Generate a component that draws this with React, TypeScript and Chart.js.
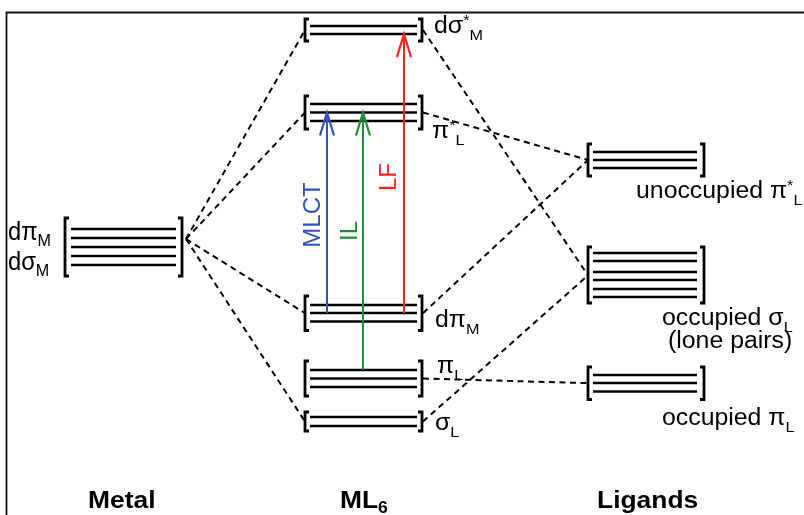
import React, { useEffect, useRef } from 'react';
import { Chart, registerables } from 'chart.js';

Chart.register(...registerables);

const W = 804;
const H = 515;

// ---- data: orbital energy levels (y in chart units, 0 = top) ----
const metalLevels = [229, 238, 247, 256, 265];
const dSigmaStarLevels = [26, 34];
const piStarLevels = [104, 112.5, 121];
const dPiLevels = [305, 313, 321.5];
const piLLevels = [370, 378.5, 387];
const sigmaLLevels = [417, 426];
const ligPiStarLevels = [152, 160, 168];
const ligSigmaLevels = [253, 261, 272, 280, 289, 297];
const ligPiLevels = [375, 383, 391.5];

// ---- text ----
const columnTitles = ['Metal', 'ML', 'Ligands'];
const transitionNames = ['MLCT', 'IL', 'LF'];
const transitionColors = ['#2f52c0', '#1f8c3a', '#ff2222'];

// ---- layout ----
const columns: Record<string, { x0: number; x1: number; bl: number; br: number }> = {
  metal: { x0: 71, x1: 176, bl: 65, br: 182 },
  ml6: { x0: 310, x1: 417, bl: 305, br: 422 },
  lig: { x0: 593, x1: 697, bl: 588, br: 704 },
};

type Group = { levels: number[]; col: string; pad: number; anchor?: number };
const groups: Record<string, Group> = {
  metal: { levels: metalLevels, col: 'metal', pad: 11, anchor: 239 },
  dss: { levels: dSigmaStarLevels, col: 'ml6', pad: 7 },
  pis: { levels: piStarLevels, col: 'ml6', pad: 8 },
  dpi: { levels: dPiLevels, col: 'ml6', pad: 9 },
  pil: { levels: piLLevels, col: 'ml6', pad: 9 },
  sil: { levels: sigmaLLevels, col: 'ml6', pad: 5 },
  lpis: { levels: ligPiStarLevels, col: 'lig', pad: 8 },
  lsig: { levels: ligSigmaLevels, col: 'lig', pad: 6 },
  lpi: { levels: ligPiLevels, col: 'lig', pad: 8 },
};

const connectors: [string, string][] = [
  ['metal', 'dss'],
  ['metal', 'pis'],
  ['metal', 'dpi'],
  ['metal', 'sil'],
  ['dss', 'lsig'],
  ['pis', 'lpis'],
  ['dpi', 'lpis'],
  ['pil', 'lpi'],
  ['sil', 'lsig'],
];

const transitions = [
  { from: 'dpi', fi: 1, to: 'pis', ti: 1, x: 327, label: { x: 313, y: 215 } },
  { from: 'pil', fi: 0, to: 'pis', ti: 1, x: 363, label: { x: 350, y: 231 } },
  { from: 'dpi', fi: 1, to: 'dss', ti: 1, x: 404, label: { x: 389, y: 177 } },
];

const FONT = '"Liberation Sans", Arial, Helvetica, sans-serif';

type Part = { t: string; size: number; dy?: number; bold?: boolean };

const sub = (t: string): Part => ({ t, size: 15, dy: 7 });
const sup = (t: string): Part => ({ t, size: 15, dy: -8 });
const main = (t: string): Part => ({ t, size: 23 });

const SX = 1.08;

const textLabels: { x: number; y: number; parts: Part[]; sx: number }[] = [
  { x: 8, y: 240, parts: [{ t: 'dπ', size: 25 }, { t: 'M', size: 17, dy: 6 }], sx: 0.95 },
  { x: 8, y: 270, parts: [{ t: 'dσ', size: 25 }, { t: 'M', size: 17, dy: 6 }], sx: 0.95 },
  { x: 434, y: 33, parts: [main('dσ'), sup('*'), sub('M')], sx: SX },
  { x: 432, y: 138, parts: [main('π'), sup('*'), sub('L')], sx: SX },
  { x: 435, y: 327, parts: [main('dπ'), sub('M')], sx: SX },
  { x: 437, y: 373, parts: [main('π'), sub('L')], sx: SX },
  { x: 435, y: 430, parts: [main('σ'), sub('L')], sx: SX },
  { x: 636, y: 198, parts: [main('unoccupied π'), sup('*'), sub('L')], sx: SX },
  { x: 662, y: 325, parts: [main('occupied σ'), sub('L')], sx: SX },
  { x: 668, y: 348, parts: [main('(lone pairs)')], sx: SX },
  { x: 662, y: 425, parts: [main('occupied π'), sub('L')], sx: SX },
  { x: 88, y: 508, parts: [{ t: columnTitles[0], size: 24, bold: true }], sx: 1.1 },
  {
    x: 340,
    y: 508,
    parts: [{ t: columnTitles[1], size: 24, bold: true }, { t: '6', size: 16, dy: 5, bold: true }],
    sx: 1.1,
  },
  { x: 597, y: 508, parts: [{ t: columnTitles[2], size: 24, bold: true }], sx: 1.1 },
];

function drawRich(ctx: CanvasRenderingContext2D, x: number, y: number, parts: Part[], sx: number) {
  ctx.save();
  ctx.translate(x, y);
  ctx.scale(sx, 1);
  ctx.textBaseline = 'alphabetic';
  ctx.textAlign = 'left';
  let cx = 0;
  for (const p of parts) {
    ctx.font = `${p.bold ? 'bold ' : ''}${p.size}px ${FONT}`;
    ctx.fillText(p.t, cx, p.dy || 0);
    cx += ctx.measureText(p.t).width;
  }
  ctx.restore();
}

const mean = (a: number[]) => a.reduce((s, v) => s + v, 0) / a.length;
const anchorY = (g: Group) => (g.anchor !== undefined ? g.anchor : mean(g.levels));

function buildDatasets() {
  const ds: any[] = [];
  // arrows (first = drawn on top)
  transitions.forEach((t, i) => {
    ds.push({
      data: [
        { x: t.x, y: groups[t.from].levels[t.fi] },
        { x: t.x, y: groups[t.to].levels[t.ti] },
      ],
      borderColor: transitionColors[i],
      borderWidth: 2,
    });
  });
  // levels
  Object.values(groups).forEach((g) => {
    const c = columns[g.col];
    g.levels.forEach((y) => {
      ds.push({
        data: [
          { x: c.x0, y },
          { x: c.x1, y },
        ],
        borderColor: '#000',
        borderWidth: 2.4,
      });
    });
  });
  // dashed correlation lines
  connectors.forEach(([a, b]) => {
    const ga = groups[a];
    const gb = groups[b];
    const xa = columns[ga.col].br + (ga.col === 'metal' ? 4 : 1);
    const xb = columns[gb.col].bl;
    ds.push({
      data: [
        { x: xa, y: anchorY(ga) },
        { x: xb, y: anchorY(gb) },
      ],
      borderColor: '#000',
      borderWidth: 2,
      borderDash: [6, 4.5],
    });
  });
  return ds.map((d) => ({ showLine: true, pointRadius: 0, pointHoverRadius: 0, fill: false, ...d }));
}

const diagramPlugin = {
  id: 'moDiagram',
  beforeDatasetsDraw(chart: any) {
    const ctx: CanvasRenderingContext2D = chart.ctx;
    ctx.save();
    ctx.strokeStyle = '#111';
    ctx.lineWidth = 1.8;
    ctx.beginPath();
    ctx.moveTo(6.5, H);
    ctx.lineTo(6.5, 12.5);
    ctx.lineTo(W, 12.5);
    ctx.stroke();
    ctx.restore();
  },
  afterDatasetsDraw(chart: any) {
    const ctx: CanvasRenderingContext2D = chart.ctx;
    const xs = chart.scales.x;
    const ys = chart.scales.y;
    const px = (v: number) => xs.getPixelForValue(v);
    const py = (v: number) => ys.getPixelForValue(v);
    ctx.save();
    // brackets
    ctx.strokeStyle = '#000';
    ctx.lineWidth = 2.8;
    ctx.lineJoin = 'miter';
    Object.values(groups).forEach((g) => {
      const c = columns[g.col];
      const top = py(Math.min(...g.levels) - g.pad);
      const bot = py(Math.max(...g.levels) + g.pad);
      const l = px(c.bl);
      const r = px(c.br);
      ctx.beginPath();
      ctx.moveTo(l + 4, top);
      ctx.lineTo(l, top);
      ctx.lineTo(l, bot);
      ctx.lineTo(l + 4, bot);
      ctx.stroke();
      ctx.beginPath();
      ctx.moveTo(r - 4, top);
      ctx.lineTo(r, top);
      ctx.lineTo(r, bot);
      ctx.lineTo(r - 4, bot);
      ctx.stroke();
    });
    // arrow heads + labels
    transitions.forEach((t, i) => {
      const x = px(t.x);
      const tipY = py(groups[t.to].levels[t.ti]);
      ctx.strokeStyle = transitionColors[i];
      ctx.lineWidth = 2.2;
      ctx.lineJoin = 'miter';
      ctx.beginPath();
      ctx.moveTo(x - 7, tipY + 23);
      ctx.lineTo(x, tipY);
      ctx.lineTo(x + 7, tipY + 23);
      ctx.stroke();
      ctx.save();
      ctx.fillStyle = transitionColors[i];
      ctx.translate(t.label.x, t.label.y);
      ctx.rotate(-Math.PI / 2);
      ctx.font = `24px ${FONT}`;
      ctx.textAlign = 'center';
      ctx.textBaseline = 'middle';
      ctx.fillText(transitionNames[i], 0, 0);
      ctx.restore();
    });
    // text labels
    ctx.fillStyle = '#000';
    textLabels.forEach((l) => drawRich(ctx, l.x, l.y, l.parts, l.sx));
    ctx.restore();
  },
};

export default function App() {
  const ref = useRef<HTMLCanvasElement | null>(null);
  useEffect(() => {
    if (!ref.current) return;
    const chart = new Chart(ref.current, {
      type: 'scatter',
      data: { datasets: buildDatasets() },
      options: {
        animation: false,
        responsive: true,
        maintainAspectRatio: false,
        events: [],
        layout: { padding: 0 },
        plugins: { legend: { display: false }, tooltip: { enabled: false } },
        scales: {
          x: { type: 'linear', min: 0, max: W, display: false },
          y: { type: 'linear', min: 0, max: H, reverse: true, display: false },
        },
      },
      plugins: [diagramPlugin],
    });
    return () => chart.destroy();
  }, []);
  return (
    <div style={{ position: 'absolute', left: 0, top: 0, width: W, height: H, background: '#fff' }}>
      <canvas ref={ref} />
    </div>
  );
}
